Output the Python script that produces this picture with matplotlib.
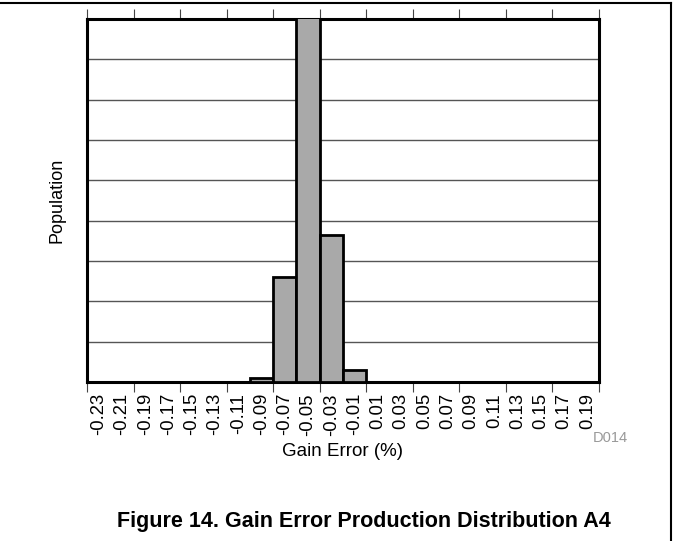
import numpy as np
import matplotlib.pyplot as plt
from matplotlib.lines import Line2D

plt.rcParams['font.family'] = ['Liberation Sans', 'DejaVu Sans']

# Histogram data (bin centres, % gain error) and population in grid units
bin_centers = [-0.23, -0.21, -0.19, -0.17, -0.15, -0.13, -0.11, -0.09, -0.07, -0.05, -0.03,
               -0.01, 0.01, 0.03, 0.05, 0.07, 0.09, 0.11, 0.13, 0.15, 0.17, 0.19]
population = [0, 0, 0, 0, 0, 0, 0, 0.09, 2.6, 9.5, 3.64, 0.3, 0, 0, 0, 0, 0, 0, 0, 0, 0, 0]
tick_labels = ['%.2f' % c for c in bin_centers]
bin_edges = [-0.24, -0.20, -0.16, -0.12, -0.08, -0.04, 0.0, 0.04, 0.08, 0.12, 0.16, 0.20]

fig = plt.figure(figsize=(6.73, 5.41), dpi=100)
ax = fig.add_axes([87/673, 1 - 382/541, 512/673, 363/541])

ax.bar(bin_centers, population, width=0.02, color='#a9a9a9', edgecolor='black',
       linewidth=2.0, zorder=3)

ax.set_xlim(-0.24, 0.20)
ax.set_ylim(0, 9)
ax.set_yticks(range(10))
ax.set_yticklabels([])
ax.tick_params(axis='y', length=0)
ax.yaxis.grid(True, color='#555555', linewidth=1.0)
ax.set_axisbelow(True)

# bottom: labels at bin centres, tick marks at every second edge
ax.set_xticks(bin_centers)
ax.set_xticklabels(tick_labels, rotation=90, fontsize=13.3)
ax.tick_params(axis='x', which='major', length=0, pad=8)
ax.set_xticks(bin_edges, minor=True)
ax.tick_params(axis='x', which='minor', length=7.5, width=0.8, color='#444444',
               direction='out', top=True, bottom=True)

for s in ax.spines.values():
    s.set_linewidth(2.2)

ax.set_xlabel('Gain Error (%)', fontsize=13.5, labelpad=5)
ax.set_ylabel('Population', fontsize=13, labelpad=12)

fig.text(628/673, 1 - 438/541, 'D014', color='#999999', fontsize=10.5, ha='right', va='center')
fig.text(364/673, 1 - 522/541, 'Figure 14. Gain Error Production Distribution A4',
         fontsize=15.5, fontweight='bold', ha='center', va='center')

# page frame (top and right edges)
fig.add_artist(Line2D([0, 671/673], [1 - 3/541, 1 - 3/541], color='black', linewidth=1.5,
                      transform=fig.transFigure))
fig.add_artist(Line2D([671/673, 671/673], [1 - 3/541, 0], color='black', linewidth=1.5,
                      transform=fig.transFigure))

fig.savefig('out.png', dpi=100)
